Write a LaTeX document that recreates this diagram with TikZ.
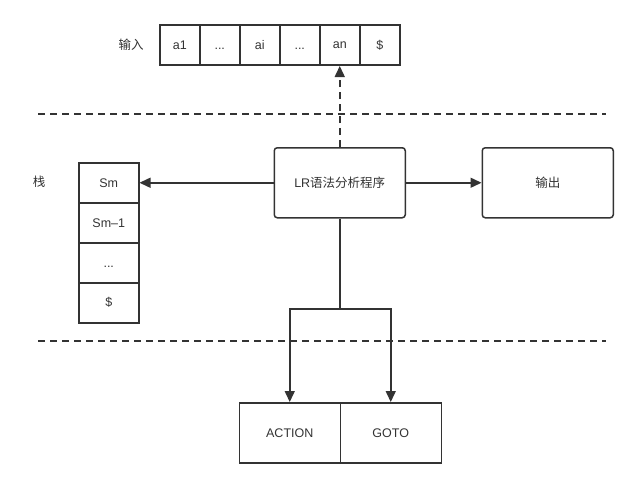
\documentclass[tikz,border=0pt]{standalone}
\usepackage{fontspec}
\setmainfont{Liberation Sans}
\newfontfamily\cjk{Noto Sans CJK SC}
\usetikzlibrary{arrows.meta}
\definecolor{ink}{HTML}{333333}
\begin{document}
\begin{tikzpicture}[x=1pt,y=-1pt,
  every node/.style={font=\fontsize{12.5}{14}\selectfont, text=ink},
  cell/.style={draw=ink, line width=1.5pt, minimum width=40pt, minimum height=40pt, inner sep=0pt, anchor=north west},
  scell/.style={draw=ink, line width=1.5pt, minimum width=60pt, minimum height=40pt, inner sep=0pt, anchor=north west},
  rbox/.style={draw=ink, line width=1.5pt, rounded corners=3pt, minimum width=131pt, minimum height=70pt, inner sep=0pt, anchor=north west},
  tbox/.style={draw=ink, line width=1.5pt, minimum width=101pt, minimum height=60pt, inner sep=0pt, anchor=north west},
  conn/.style={draw=ink, line width=1.5pt, -{Triangle[length=11pt,width=10pt]}},
  sep/.style={draw=ink, line width=1.5pt, dash pattern=on 7pt off 5pt},
  lbl/.style={anchor=center}]
\useasboundingbox (0,0) rectangle (637,487);
% input row
\node[cell] (a1) at (159,24.5) {a1};
\node[cell] (d1) at (199,24.5) {\vphantom{a1}...};
\node[cell] (ai) at (239,24.5) {ai};
\node[cell] (d2) at (279,24.5) {\vphantom{a1}...};
\node[cell] (an) at (319,24.5) {an};
\node[cell] (dl) at (359,24.5) {\$};
\node[lbl] (inlbl) at (131,45) {\cjk 输入};
% stack
\node[scell] (sm) at (78,162) {Sm};
\node[scell] (sm1) at (78,202) {Sm\textendash1};
\node[scell] (sd) at (78,242) {\vphantom{Sm}...};
\node[scell] (sdl) at (78,282) {\$};
\node[lbl] (stlbl) at (39,182) {\cjk 栈};
% LR box and output
\node[rbox] (lr) at (273.5,147) {LR{\cjk 语法分析程序}};
\node[rbox] (out) at (481.5,147) {\cjk 输出};
% action goto
\node[tbox] (act) at (238.5,402) {ACTION};
\node[tbox] (gto) at (339.5,402) {GOTO};
% separators
\coordinate (s1a) at (38,114); \coordinate (s1b) at (606,114);
\coordinate (s2a) at (38,341); \coordinate (s2b) at (606,341);
\draw[sep] (s1a) -- (s1b);
\draw[sep] (s2a) -- (s2b);
% connectors
\draw[conn, dash pattern=on 7pt off 5pt] (lr.north) -- (an.south);
\draw[conn] (lr.west) -- (sm.east);
\draw[conn] (lr.east) -- (out.west);
\coordinate (br) at (lr.south |- 0,309);
\draw[draw=ink, line width=1.5pt] (lr.south) -- (br);
\draw[conn] (br) -| (act.north);
\draw[conn] (br) -| (gto.north);
\end{tikzpicture}
\end{document}
